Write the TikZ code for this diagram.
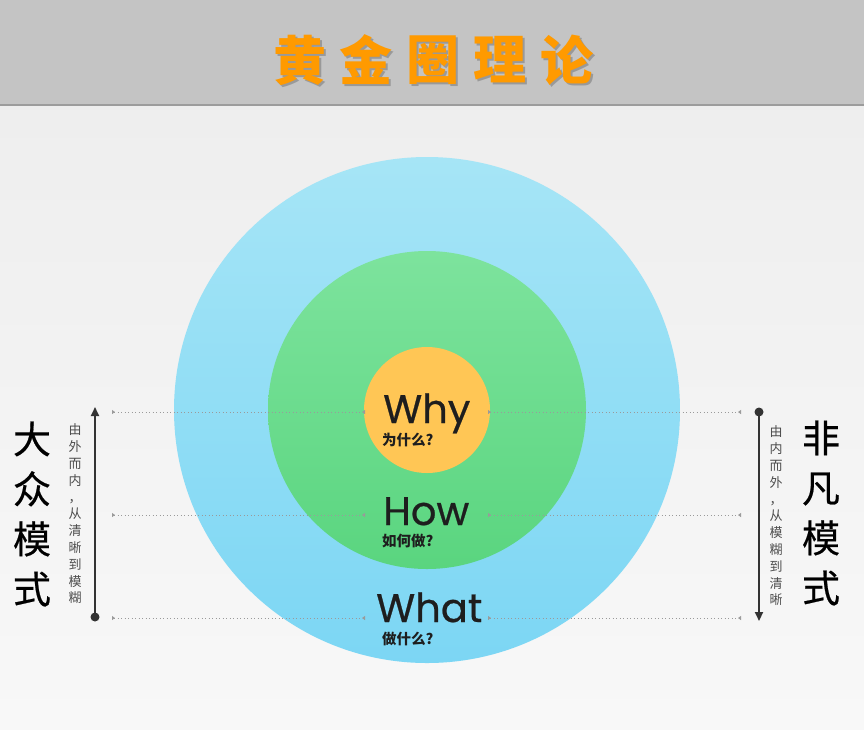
\documentclass[tikz,border=0pt]{standalone}
\usepackage{fontspec}
\setmainfont{Poppins}[FakeBold=0.6]
\newfontfamily\cjk{Noto Sans CJK SC}
\newfontfamily\cjkmed{Noto Sans CJK SC}[FakeBold=0.5]
\usetikzlibrary{arrows.meta}
\definecolor{hdr}{HTML}{C4C4C4}
\definecolor{hdrline}{HTML}{9C9C9C}
\definecolor{bgtop}{HTML}{EEEEEE}
\definecolor{bgbot}{HTML}{F8F8F8}
\definecolor{bluetop}{HTML}{A6E5F6}
\definecolor{bluebot}{HTML}{7CD6F4}
\definecolor{greentop}{HTML}{7DE39D}
\definecolor{greenbot}{HTML}{5AD57F}
\definecolor{orangec}{HTML}{FFC655}
\definecolor{titleor}{HTML}{FF9A00}
\definecolor{ink}{HTML}{1E1E1E}
\definecolor{arr}{HTML}{333333}
\definecolor{dotc}{HTML}{9A9A9A}
\tikzset{
  titlech/.style={font=\cjk\bfseries\fontsize{53}{53}\selectfont, text=titleor, inner sep=0pt},
  titlesh/.style={font=\cjk\bfseries\fontsize{53}{53}\selectfont, text=black!60, inner sep=0pt, opacity=0.45},
  bigword/.style={font=\fontsize{40}{40}\selectfont, text=ink, inner sep=0pt, anchor=base west, text depth=0pt},
  subword/.style={font=\cjk\bfseries\fontsize{14.5}{15}\selectfont, text=ink, inner sep=0pt, anchor=west},
  sidebig/.style={font=\cjkmed\fontsize{38}{50}\selectfont, text=black, align=center, inner sep=0pt},
  sidesmall/.style={font=\cjk\fontsize{13}{16.8}\selectfont, text=black!70, align=center, inner sep=0pt},
  guide/.style={dotc, line width=1pt, dash pattern=on 1.3pt off 2.2pt,
     {Triangle[reversed,length=3pt,width=4pt]}-{Triangle[reversed,length=3pt,width=4pt]}},
  flow/.style={arr, line width=2pt},
}
\begin{document}
\begin{tikzpicture}[x=1pt,y=-1pt]
\useasboundingbox (0,0) rectangle (864,729);
% background
\shade[top color=bgtop, bottom color=bgbot] (0,106) rectangle (864,729);
\fill[hdr] (0,0) rectangle (864,105);
\draw[hdrline, line width=1.5pt] (0,105) -- (864,105);
% title (shadow, then letters)
\foreach \c/\x in {黄/300,金/366,圈/433,理/500,论/567}{
  \node[titlesh] at (\x+2,62) {\c};
}
\node[titlech] (t1) at (300,60) {黄};
\node[titlech] (t2) at (366,60) {金};
\node[titlech] (t3) at (433,60) {圈};
\node[titlech] (t4) at (500,60) {理};
\node[titlech] (t5) at (567,60) {论};
% circles
\coordinate (c) at (427,410);
\shade[top color=bluetop, bottom color=bluebot] (c) circle[radius=253pt];
\shade[top color=greentop, bottom color=greenbot] (c) circle[radius=159pt];
\fill[orangec] (c) circle[radius=63pt];
% guide lines
\coordinate (l1a) at (112,412); \coordinate (l1b) at (365,412);
\coordinate (l2a) at (112,515); \coordinate (l2b) at (365,515);
\coordinate (l3a) at (112,618); \coordinate (l3b) at (365,618);
\coordinate (r1a) at (488,412); \coordinate (r1b) at (741,412);
\coordinate (r2a) at (488,515); \coordinate (r2b) at (741,515);
\coordinate (r3a) at (488,618); \coordinate (r3b) at (741,618);
\draw[guide] (l1a) -- (l1b);
\draw[guide] (l2a) -- (l2b);
\draw[guide] (l3a) -- (l3b);
\draw[guide] (r1a) -- (r1b);
\draw[guide] (r2a) -- (r2b);
\draw[guide] (r3a) -- (r3b);
% words
\node[bigword] (why) at (383,423) {Why};
\node[subword] (whyz) at (382,440) {为什么?};
\node[bigword] (how) at (383,525) {How};
\node[subword] (howz) at (382,541) {如何做?};
\node[bigword] (what) at (376,622) {What};
\node[subword] (whatz) at (382,639) {做什么?};
% left side
\coordinate (la) at (95,617);
\coordinate (lb) at (95,407);
\fill[arr] (la) circle[radius=4.5pt];
\draw[flow, -{Triangle[length=9pt,width=8pt]}] (la) -- (lb);
\node[sidesmall] (ls) at (75,514) {由\\外\\而\\内\\，\\从\\清\\晰\\到\\模\\糊};
\node[sidebig] (lbig) at (32,514) {大\\众\\模\\式};
% right side
\coordinate (ra) at (759,412);
\coordinate (rb) at (759,621);
\fill[arr] (ra) circle[radius=4.5pt];
\draw[flow, -{Triangle[length=9pt,width=8pt]}] (ra) -- (rb);
\node[sidesmall] (rs) at (776,516) {由\\内\\而\\外\\，\\从\\模\\糊\\到\\清\\晰};
\node[sidebig] (rbig) at (821,513) {非\\凡\\模\\式};
\end{tikzpicture}
\end{document}
